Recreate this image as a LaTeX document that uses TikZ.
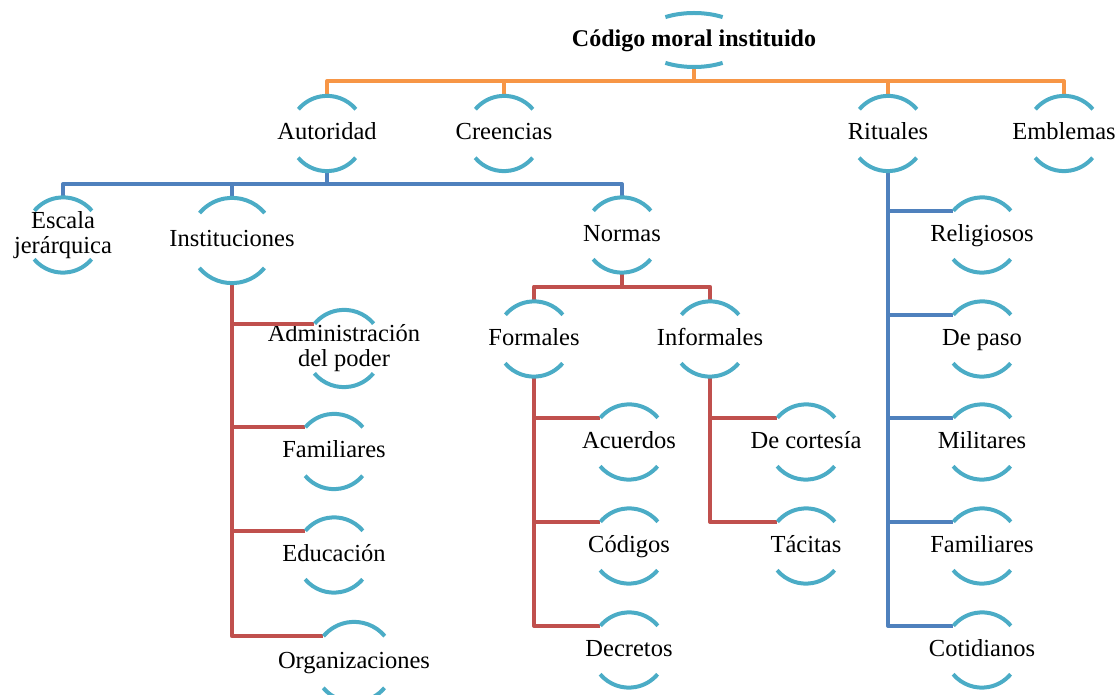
\documentclass[tikz,border=0pt]{standalone}
\usepackage{fontspec}
\setmainfont{Liberation Serif}
\definecolor{rimblue}{HTML}{4BACC6}
\definecolor{linkorange}{HTML}{F79646}
\definecolor{linkblue}{HTML}{4F81BD}
\definecolor{linkred}{HTML}{C0504D}

\begin{document}
\begin{tikzpicture}[x=1pt, y=1pt,
    bub/.style={circle, inner sep=0pt, minimum size=#1},
    bub/.default=75pt,
    lbl/.style={font=\fontsize{24.5}{25}\selectfont, inner sep=0pt, text height=17pt, text depth=4pt},
    lbltwo/.style={font=\fontsize{24.5}{25}\selectfont, inner sep=0pt, align=center},
    rim/.style={rimblue, line width=4pt},
    link/.style={line width=4pt, line join=round}]
    \useasboundingbox (0,0) rectangle (1117,694);
    % top
    \node [bub=54pt, label={[lbl, font=\bfseries\fontsize{24}{25}\selectfont]center:Código moral instituido}] (cod) at (694, 654) {};
    % first row
    \node [bub, label={[lbl]center:Autoridad}] (aut) at (327, 560.5) {};
    \node [bub, label={[lbl]center:Creencias}] (cre) at (504, 560.5) {};
    \node [bub, label={[lbl]center:Rituales}] (rit) at (888, 560.5) {};
    \node [bub, label={[lbl]center:Emblemas}] (emb) at (1064, 560.5) {};
    % second row
    \node [bub, label={[lbltwo]center:{Escala\\jerárquica}}] (esc) at (63, 459) {};
    \node [bub=85pt, label={[lbl]center:Instituciones}] (ins) at (232, 453.5) {};
    \node [bub, label={[lbl]center:Normas}] (nor) at (622, 459) {};
    \node [bub, label={[lbl]center:Formales}] (frm) at (534, 355) {};
    \node [bub, label={[lbl]center:Informales}] (inf) at (710, 355) {};
    % Instituciones
    \node [bub=77pt, label={[lbltwo]center:{Administración\\del poder}}] (adm) at (344, 345.5) {};
    \node [bub, label={[lbl]center:Familiares}] (fam) at (334, 242.5) {};
    \node [bub, label={[lbl]center:Educación}] (edu) at (334, 139) {};
    \node [bub=80pt, label={[lbl]center:Organizaciones}] (org) at (354, 32) {};
    % Formales, Informales
    \node [bub, label={[lbl]center:Acuerdos}] (acu) at (629, 252) {};
    \node [bub, label={[lbl]center:Códigos}] (cds) at (629, 148) {};
    \node [bub, label={[lbl]center:Decretos}] (dec) at (629, 44) {};
    \node [bub, label={[lbl]center:De cortesía}] (dcr) at (806, 252) {};
    \node [bub, label={[lbl]center:Tácitas}] (tac) at (806, 148) {};
    % Rituales
    \node [bub, label={[lbl]center:Religiosos}] (rel) at (982, 459) {};
    \node [bub, label={[lbl]center:De paso}] (pas) at (982, 355) {};
    \node [bub, label={[lbl]center:Militares}] (mil) at (982, 252) {};
    \node [bub, label={[lbl]center:Familiares}] (rfam) at (982, 148) {};
    \node [bub, label={[lbl]center:Cotidianos}] (cot) at (982, 44) {};

    % connectors
    \foreach \c in {aut, cre, rit, emb}
      \draw [link, linkorange] (cod.south) -- ++(0,-14) -| (\c.north);
    \foreach \c in {esc, ins, nor}
      \draw [link, linkblue] (aut.south) -- ++(0,-13) -| (\c.north);
    \foreach \c in {frm, inf}
      \draw [link, linkred] (nor.south) -- ++(0,-14) -| (\c.north);
    \foreach \c in {adm, fam, edu, org}
      \draw [link, linkred] (ins.south) |- (\c.140);
    \foreach \c in {acu, cds, dec}
      \draw [link, linkred] (frm.south) |- (\c.140);
    \foreach \c in {dcr, tac}
      \draw [link, linkred] (inf.south) |- (\c.140);
    \foreach \c in {rel, pas, mil, rfam, cot}
      \draw [link, linkblue] (rit.south) |- (\c.140);

    % arcs
    \draw [rim] (cod.center) ++(58:54 and 27) arc [start angle=58, end angle=122, x radius=54, y radius=27];
    \draw [rim] (cod.center) ++(238:54 and 27) arc [start angle=238, end angle=302, x radius=54, y radius=27];
    \foreach \n/\r in {aut/37.5, cre/37.5, rit/37.5, emb/37.5, esc/37.5, ins/42.5, nor/37.5,
        frm/37.5, inf/37.5, adm/38.5, fam/37.5, edu/37.5, org/40, acu/37.5, cds/37.5, dec/37.5,
        dcr/37.5, tac/37.5, rel/37.5, pas/37.5, mil/37.5, rfam/37.5, cot/37.5} {
      \draw [rim] (\n.40) arc [start angle=40, end angle=140, radius=\r];
      \draw [rim] (\n.220) arc [start angle=220, end angle=320, radius=\r];
    }
\end{tikzpicture}
\end{document}
